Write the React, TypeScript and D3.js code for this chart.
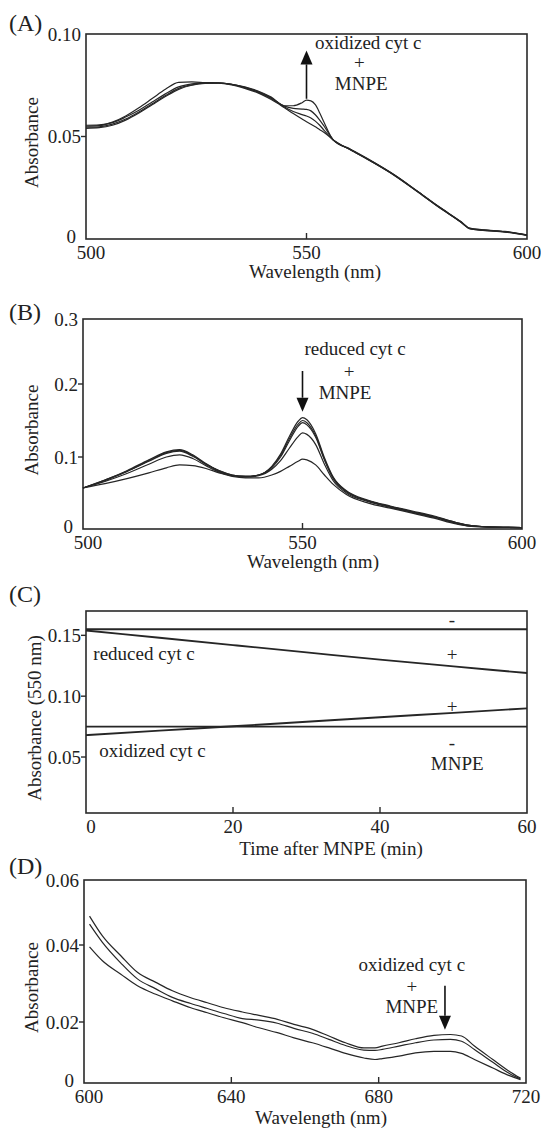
import React, { useEffect, useRef } from 'react';
import * as d3 from 'd3';

const FONT = '"Liberation Serif", "Times New Roman", Times, serif';
const INK = '#222';
const FS = 19;

// (A) oxidized cyt c + MNPE, absorbance spectra
const wavelengthA = [500, 503, 506, 509, 512, 515, 518, 521, 524, 527, 530, 533, 536, 539, 542, 545, 547, 549, 550, 551, 552, 553, 554, 556, 560, 565, 570, 575, 580, 585, 587, 590, 595, 600];
const spectrumA1 = [0.0555, 0.0557, 0.0568, 0.0595, 0.0628, 0.0668, 0.0708, 0.0742, 0.0757, 0.0762, 0.0762, 0.0755, 0.0742, 0.0722, 0.0692, 0.065, 0.065, 0.0665, 0.0677, 0.0674, 0.0655, 0.0615, 0.0568, 0.0485, 0.0438, 0.0378, 0.0312, 0.0236, 0.0158, 0.0085, 0.0053, 0.0045, 0.0037, 0.002];
const spectrumA2 = [0.055, 0.0553, 0.057, 0.06, 0.064, 0.0685, 0.073, 0.0764, 0.0766, 0.0763, 0.0761, 0.0754, 0.074, 0.0719, 0.0688, 0.0648, 0.0637, 0.0634, 0.0632, 0.0625, 0.0606, 0.058, 0.055, 0.0485, 0.0436, 0.0376, 0.0311, 0.0235, 0.0157, 0.0084, 0.0052, 0.0044, 0.0036, 0.0019];
const spectrumA3 = [0.0545, 0.0547, 0.056, 0.0585, 0.062, 0.066, 0.07, 0.0735, 0.0752, 0.076, 0.0761, 0.0754, 0.0738, 0.0716, 0.0685, 0.0644, 0.0622, 0.0607, 0.06, 0.059, 0.0575, 0.0555, 0.053, 0.0484, 0.0435, 0.0375, 0.031, 0.0234, 0.0156, 0.0083, 0.0051, 0.0043, 0.0035, 0.0018];
const spectrumA4 = [0.054, 0.0543, 0.0555, 0.058, 0.0615, 0.0655, 0.0695, 0.073, 0.075, 0.0759, 0.076, 0.0752, 0.0735, 0.0713, 0.068, 0.064, 0.0612, 0.0585, 0.0572, 0.056, 0.0547, 0.0533, 0.052, 0.0484, 0.0434, 0.0374, 0.0309, 0.0233, 0.0155, 0.0082, 0.005, 0.0042, 0.0034, 0.0017];

// (B) reduced cyt c + MNPE
const wavelengthB = [500, 505, 510, 515, 519, 522, 525, 528, 531, 534, 537, 540, 543, 545, 547, 549, 550, 551, 553, 555, 557, 560, 565, 570, 575, 580, 585, 588, 592, 600];
const spectrumB1 = [0.057, 0.068, 0.081, 0.096, 0.107, 0.11, 0.103, 0.091, 0.081, 0.075, 0.073, 0.075, 0.087, 0.104, 0.128, 0.149, 0.154, 0.151, 0.132, 0.099, 0.072, 0.053, 0.04, 0.032, 0.025, 0.018, 0.009, 0.005, 0.003, 0.002];
const spectrumB2 = [0.057, 0.068, 0.08, 0.095, 0.106, 0.109, 0.102, 0.09, 0.081, 0.075, 0.073, 0.075, 0.086, 0.102, 0.125, 0.145, 0.15, 0.147, 0.129, 0.097, 0.071, 0.052, 0.039, 0.031, 0.024, 0.017, 0.009, 0.005, 0.003, 0.002];
const spectrumB3 = [0.057, 0.067, 0.08, 0.094, 0.105, 0.108, 0.101, 0.09, 0.08, 0.074, 0.073, 0.075, 0.085, 0.1, 0.122, 0.142, 0.147, 0.144, 0.127, 0.096, 0.07, 0.052, 0.039, 0.031, 0.024, 0.017, 0.008, 0.005, 0.003, 0.002];
const spectrumB4 = [0.057, 0.066, 0.077, 0.09, 0.1, 0.103, 0.098, 0.088, 0.079, 0.074, 0.072, 0.074, 0.083, 0.095, 0.112, 0.128, 0.133, 0.131, 0.117, 0.09, 0.067, 0.05, 0.038, 0.03, 0.023, 0.016, 0.008, 0.004, 0.003, 0.002];
const spectrumB5 = [0.057, 0.063, 0.07, 0.078, 0.085, 0.089, 0.088, 0.084, 0.078, 0.073, 0.071, 0.071, 0.075, 0.08, 0.087, 0.094, 0.097, 0.096, 0.089, 0.075, 0.062, 0.048, 0.036, 0.029, 0.022, 0.015, 0.007, 0.004, 0.003, 0.002];

// (C) absorbance at 550 nm vs time
const timeC = [0, 10, 20, 30, 40, 50, 60];
const reducedNoMNPE = [0.155, 0.155, 0.155, 0.155, 0.155, 0.155, 0.155];
const reducedMNPE = [0.154, 0.148, 0.142, 0.136, 0.13, 0.1245, 0.119];
const oxidizedNoMNPE = [0.075, 0.075, 0.075, 0.075, 0.075, 0.075, 0.075];
const oxidizedMNPE = [0.068, 0.0717, 0.0753, 0.079, 0.0827, 0.0863, 0.09];

// (D) oxidized cyt c + MNPE, 600-720 nm
const wavelengthD = [601.5, 605, 610, 614.5, 619.5, 624, 629, 633.5, 638, 643, 647.5, 652.5, 657, 662, 666.5, 671, 676, 679, 681, 685.5, 690, 695, 699.5, 702.5, 706, 711, 715.5, 718.5];
const spectrumD1 = [0.0489, 0.0428, 0.0372, 0.0329, 0.0303, 0.0281, 0.0263, 0.025, 0.0237, 0.0226, 0.0217, 0.0207, 0.0192, 0.0176, 0.0154, 0.0132, 0.0115, 0.0115, 0.0121, 0.0132, 0.0145, 0.0156, 0.0159, 0.0154, 0.0121, 0.0077, 0.0038, 0.0016];
const spectrumD2 = [0.0464, 0.0408, 0.0353, 0.0312, 0.0286, 0.0264, 0.0248, 0.0235, 0.0222, 0.0209, 0.0205, 0.0196, 0.0179, 0.0163, 0.0143, 0.0123, 0.0108, 0.0107, 0.011, 0.0121, 0.0132, 0.0141, 0.0143, 0.0137, 0.011, 0.0068, 0.0031, 0.0013];
const spectrumD3 = [0.0395, 0.0359, 0.0324, 0.0294, 0.0272, 0.0255, 0.0237, 0.0224, 0.0211, 0.0198, 0.0181, 0.0165, 0.0148, 0.0132, 0.0115, 0.0097, 0.0082, 0.0077, 0.008, 0.0088, 0.0099, 0.0104, 0.0104, 0.0097, 0.0077, 0.0049, 0.0024, 0.0011];

const fmt = (digits: number) => (v: number) => (v === 0 ? '0' : v.toFixed(digits));

// box, ticks and titles of one panel
function drawFrame(svg: any, o: any) {
  const g = svg.append('g').attr('font-family', FONT).attr('font-size', FS).attr('fill', INK);
  const [left, right] = o.x.range();
  const yr = o.y.range();
  const bottom = yr[0];
  const top = yr[yr.length - 1];

  g.append('rect')
    .attr('x', left).attr('y', top)
    .attr('width', right - left).attr('height', bottom - top)
    .attr('fill', 'none').attr('stroke', '#2a2a2a').attr('stroke-width', 1.6);

  o.xTicks.forEach((t: number, i: number) => {
    const px = o.x(t);
    if (px > left + 1 && px < right - 1) {
      g.append('line').attr('x1', px).attr('x2', px).attr('y1', bottom).attr('y2', bottom - 6)
        .attr('stroke', '#2a2a2a').attr('stroke-width', 1.4);
    }
    // first label sits a little right so it clears the corner "0"
    g.append('text').attr('x', i === 0 ? px + 5 : px).attr('y', bottom + 20)
      .attr('text-anchor', 'middle').text(o.xFmt(t));
  });

  o.yTicks.forEach((t: number) => {
    const py = o.y(t);
    const atBottom = Math.abs(py - bottom) < 1;
    if (py < bottom - 1 && py > top + 1) {
      g.append('line').attr('x1', left - 5).attr('x2', left).attr('y1', py).attr('y2', py)
        .attr('stroke', '#2a2a2a').attr('stroke-width', 1.4);
    }
    g.append('text').attr('x', atBottom ? left - 10 : left - 5).attr('y', py)
      .attr('dy', atBottom ? '0.2em' : '0.35em')
      .attr('text-anchor', 'end').text(o.yFmt(t));
  });

  g.append('text').attr('x', o.xTitleX).attr('y', bottom + o.xTitleDy).attr('text-anchor', 'middle').text(o.xTitle);
  g.append('text')
    .attr('transform', `translate(${o.yTitleX},${(top + bottom) / 2 + 6}) rotate(-90)`)
    .attr('text-anchor', 'middle').text(o.yTitle);
  g.append('text').attr('x', 9).attr('y', o.letterY).attr('font-size', 24).text(o.letter);
}

function drawCurves(svg: any, x: any, y: any, xs: number[], series: number[][], width = 1.2) {
  const line = d3.line<number>()
    .x((_, i) => x(xs[i]))
    .y(d => y(d))
    .curve(d3.curveMonotoneX);
  svg.append('g').selectAll('path').data(series).enter().append('path')
    .attr('d', (d: number[]) => line(d))
    .attr('fill', 'none').attr('stroke', '#262626').attr('stroke-width', width);
}

function drawArrow(svg: any, px: number, yFrom: number, yTo: number) {
  const dir = yTo > yFrom ? 1 : -1;
  const head = 14;
  svg.append('line').attr('x1', px).attr('x2', px).attr('y1', yFrom).attr('y2', yTo - dir * head)
    .attr('stroke', '#111').attr('stroke-width', 1.6);
  svg.append('path')
    .attr('d', `M${px - 6},${yTo - dir * head}L${px + 6},${yTo - dir * head}L${px},${yTo}Z`)
    .attr('fill', '#111');
}

function label(svg: any, px: number, py: number, text: string, anchor = 'middle', dy = '0') {
  svg.append('text').attr('x', px).attr('y', py).attr('dy', dy).attr('text-anchor', anchor)
    .attr('font-family', FONT).attr('font-size', FS).attr('fill', INK).text(text);
}

// stacked "xxx cyt c / + / MNPE" note as one text block
function note(svg: any, rows: [number, number, string][]) {
  const t = svg.append('text').attr('text-anchor', 'middle')
    .attr('font-family', FONT).attr('font-size', FS).attr('fill', INK);
  rows.forEach(([px, py, s]) => t.append('tspan').attr('x', px).attr('y', py).text(s));
}

export default function App() {
  const ref = useRef<SVGSVGElement>(null);

  useEffect(() => {
    if (!ref.current) return;
    const svg = d3.select(ref.current);
    svg.selectAll('*').remove();

    // ---- (A)
    const xA = d3.scaleLinear().domain([500, 600]).range([86, 527]);
    const yA = d3.scaleLinear().domain([0, 0.1]).range([239, 34]);
    drawFrame(svg, {
      x: xA, y: yA, xTicks: [500, 550, 600], yTicks: [0, 0.05, 0.1], xFmt: String, yFmt: fmt(2),
      xTitle: 'Wavelength (nm)', xTitleX: 315, xTitleDy: 39, yTitle: 'Absorbance', yTitleX: 38, letter: '(A)', letterY: 31,
    });
    drawCurves(svg, xA, yA, wavelengthA, [spectrumA1, spectrumA2, spectrumA3, spectrumA4]);
    drawArrow(svg, xA(550), yA(0.0684), yA(0.092));
    note(svg, [
      [xA(564), yA(0.0927), 'oxidized cyt c'],
      [xA(562), yA(0.086) + 6, '+'],
      [xA(562.4), yA(0.0728), 'MNPE'],
    ]);

    // ---- (B)
    const xB = d3.scaleLinear().domain([500, 600]).range([83, 522]);
    const yB = d3.scaleLinear().domain([0, 0.1, 0.2, 0.3]).range([529, 457, 384, 319]);
    drawFrame(svg, {
      x: xB, y: yB, xTicks: [500, 550, 600], yTicks: [0, 0.1, 0.2, 0.3], xFmt: String, yFmt: fmt(1),
      xTitle: 'Wavelength (nm)', xTitleX: 313, xTitleDy: 39, yTitle: 'Absorbance', yTitleX: 38, letter: '(B)', letterY: 320,
    });
    drawCurves(svg, xB, yB, wavelengthB, [spectrumB1, spectrumB2, spectrumB3, spectrumB4, spectrumB5]);
    drawArrow(svg, xB(550), yB(0.22), yB(0.162));
    note(svg, [
      [xB(562), yB(0.245), 'reduced cyt c'],
      [xB(560.6), yB(0.22) + 7, '+'],
      [xB(559.7), yB(0.179), 'MNPE'],
    ]);

    // ---- (C)
    const xC = d3.scaleLinear().domain([0, 60]).range([86, 527]);
    const yC = d3.scaleLinear().domain([0.004, 0.17]).range([813, 611]);
    drawFrame(svg, {
      x: xC, y: yC, xTicks: [0, 20, 40, 60], yTicks: [0.05, 0.1, 0.15], xFmt: String, yFmt: fmt(2),
      xTitle: 'Time after MNPE (min)', xTitleX: 331, xTitleDy: 42, yTitle: 'Absorbance (550 nm)', yTitleX: 41, letter: '(C)', letterY: 602,
    });
    drawCurves(svg, xC, yC, timeC, [reducedNoMNPE, reducedMNPE, oxidizedNoMNPE, oxidizedMNPE], 1.9);
    label(svg, xC(1), yC(0.13), 'reduced cyt c', 'start');
    label(svg, xC(1.8), yC(0.05), 'oxidized cyt c', 'start');
    label(svg, xC(49.8), yC(0.163), '-', 'middle', '0.35em');
    label(svg, xC(49.8), yC(0.134), '+', 'middle', '0.35em');
    label(svg, xC(49.8), yC(0.0916), '+', 'middle', '0.35em');
    label(svg, xC(49.8), yC(0.062), '-', 'middle', '0.35em');
    label(svg, xC(50.5), yC(0.0396), 'MNPE');

    // ---- (D)
    const xD = d3.scaleLinear().domain([600, 720]).range([84, 526]);
    const yD = d3.scaleLinear().domain([0, 0.02, 0.04, 0.06]).range([1083, 1022, 945, 880]);
    drawFrame(svg, {
      x: xD, y: yD, xTicks: [600, 640, 680, 720], yTicks: [0, 0.02, 0.04, 0.06], xFmt: String, yFmt: fmt(2),
      xTitle: 'Wavelength (nm)', xTitleX: 321, xTitleDy: 41, yTitle: 'Absorbance', yTitleX: 38, letter: '(D)', letterY: 874,
    });
    drawCurves(svg, xD, yD, wavelengthD, [spectrumD1, spectrumD2, spectrumD3]);
    drawArrow(svg, xD(698), yD(0.0294), yD(0.0175));
    note(svg, [
      [xD(689), yD(0.0333), 'oxidized cyt c'],
      [xD(689), yD(0.029) + 6, '+'],
      [xD(689), yD(0.0224), 'MNPE'],
    ]);
  }, []);

  return (
    <svg
      ref={ref}
      width={541}
      height={1128}
      style={{ position: 'absolute', left: 0, top: 0, background: '#fff' }}
    />
  );
}
